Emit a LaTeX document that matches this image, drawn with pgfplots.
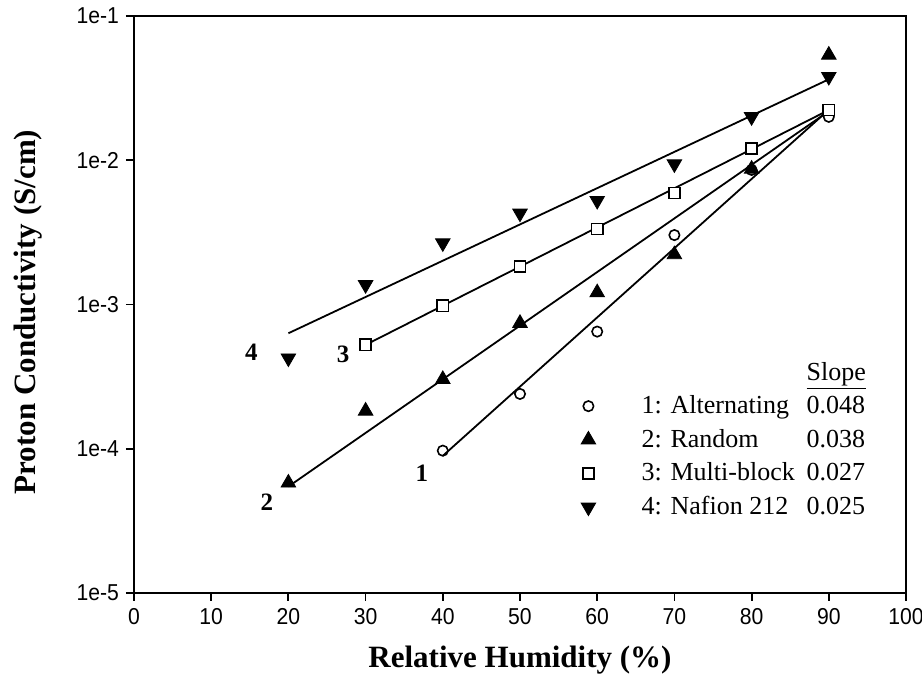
\documentclass[border=0pt]{standalone}
\usepackage{fontspec}
\setmainfont{Liberation Serif}
\newfontfamily\tickfont[FakeStretch=0.92]{Liberation Sans}
\usepackage{pgfplots}
\pgfplotsset{compat=1.18}

\begin{document}
\begin{tikzpicture}
\begin{axis}[
  scale only axis,
  width=386pt, height=288.5pt,
  xmin=0, xmax=100,
  ymode=log, ymin=1e-5, ymax=1e-1,
  xtick={0,10,...,100},
  xticklabels={0,10,20,30,40,50,60,70,80,90,100},
  ytick={1e-5,1e-4,1e-3,1e-2,1e-1},
  yticklabels={1e-5,1e-4,1e-3,1e-2,1e-1},
  minor tick length=0pt,
  tick align=outside,
  xtick pos=left, ytick pos=left,
  major tick length=4pt,
  tick style={black, line width=0.9pt},
  axis line style={line width=1.1pt},
  tick label style={font=\tickfont\fontsize{11.5}{13}\selectfont},
  xlabel={Relative Humidity (\%)},
  ylabel={Proton Conductivity (S/cm)},
  xlabel style={font=\bfseries\fontsize{15.5}{18}\selectfont,
    at={(axis description cs:0.5,-0.116)}, anchor=center},
  ylabel style={font=\bfseries\fontsize{15.5}{18}\selectfont,
    at={(axis description cs:-0.1373,0.487)}, anchor=center},
  legend style={draw=none, fill=none, at={(0.566,0.408)}, anchor=north west,
    inner sep=0pt, row sep=2.3pt, font=\fontsize{13}{15}\selectfont,
    /tikz/every odd column/.append style={column sep=21pt}},
  legend cell align=left,
  clip=false,
]
% fitted lines
\addplot[black, line width=0.9pt, forget plot] coordinates {(40,8.93e-5) (90,2.24e-2)};
\addplot[black, line width=0.9pt, forget plot] coordinates {(20,5.47e-5) (90,2.19e-2)};
\addplot[black, line width=0.9pt, forget plot] coordinates {(30,5.25e-4) (90,2.23e-2)};
\addplot[black, line width=0.9pt, forget plot] coordinates {(20,6.32e-4) (90,3.64e-2)};

\addlegendimage{empty legend}
\addlegendentry{\makebox[82.5pt][l]{}\underline{Slope}}

% 1: Alternating
\addplot[only marks, mark=o, mark size=2.6pt, mark options={fill=white, line width=0.8pt}]
  coordinates {(40,9.7e-5) (50,2.40e-4) (60,6.49e-4) (70,3.03e-3) (80,8.57e-3) (90,2.0e-2)};
\addlegendentry{\makebox[82.5pt][l]{1: Alternating}0.048}
% 2: Random
\addplot[only marks, mark=triangle*, mark size=4.2pt, mark options={fill=black}]
  coordinates {(20,5.8e-5) (30,1.83e-4) (40,3.03e-4) (50,7.42e-4) (60,1.21e-3) (70,2.22e-3) (80,8.7e-3) (90,5.37e-2)};
\addlegendentry{\makebox[82.5pt][l]{2: Random}0.038}
% 3: Multi-block
\addplot[only marks, mark=square*, mark size=2.8pt, mark options={fill=white, line width=0.8pt}]
  coordinates {(30,5.25e-4) (40,9.8e-4) (50,1.83e-3) (60,3.34e-3) (70,5.93e-3) (80,1.21e-2) (90,2.23e-2)};
\addlegendentry{\makebox[82.5pt][l]{3: Multi-block}0.027}
% 4: Nafion 212
\addplot[only marks, mark=triangle*, mark size=4.2pt, mark options={fill=black, rotate=180}]
  coordinates {(20,4.25e-4) (30,1.37e-3) (40,2.67e-3) (50,4.29e-3) (60,5.25e-3) (70,9.42e-3) (80,2.0e-2) (90,3.8e-2)};
\addlegendentry{\makebox[82.5pt][l]{4: Nafion 212}0.025}

\node[font=\bfseries\fontsize{12.5}{14}\selectfont] at (axis cs:37.3,6.8e-5) {1};
\node[font=\bfseries\fontsize{12.5}{14}\selectfont] at (axis cs:17.2,4.28e-5) {2};
\node[font=\bfseries\fontsize{12.5}{14}\selectfont] at (axis cs:27.1,4.48e-4) {3};
\node[font=\bfseries\fontsize{12.5}{14}\selectfont] at (axis cs:15.2,4.7e-4) {4};
\end{axis}
\pgfresetboundingbox
\path[use as bounding box] (-67pt,-45.5pt) rectangle (394pt,296.5pt);
\end{tikzpicture}
\end{document}
